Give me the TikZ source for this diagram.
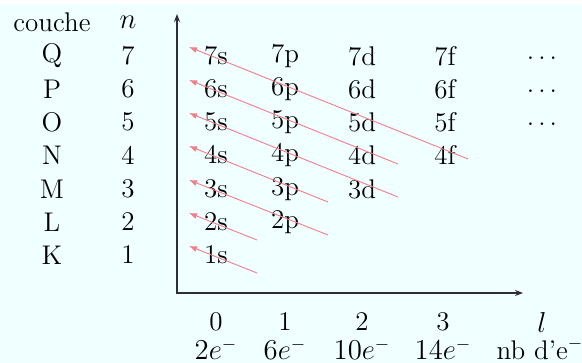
\documentclass[tikz,border=0pt]{standalone}
\usepackage{xcolor}
\usepackage{tikz}
\usetikzlibrary{arrows.meta,calc}

\definecolor{fond}{RGB}{240,255,255}
\definecolor{rouge}{RGB}{245,125,135}
\definecolor{axe}{RGB}{45,45,60}

\begin{document}
\begin{tikzpicture}[
    x=0.5pt, y=-0.5pt,
    lab/.style={font=\fontsize{13.5}{15}\selectfont, inner sep=0pt},
    orb/.style={lab},
    axis/.style={{Stealth[length=4pt,width=3pt]}-{Stealth[length=4pt,width=3pt]}, draw=axe, line width=0.65pt},
    diag/.style={-{Latex[length=4pt,width=3pt]}, draw=rouge, line width=0.45pt}
]
    \useasboundingbox (0,0) rectangle (582,363);
    \fill[fond] (0,4) rectangle (582,363);

    % en-tetes a gauche
    \node[lab] (couche) at (52,22) {couche};
    \node[lab] (n) at (128,22) {$n$};
    \node[lab] (Q) at (52,56) {Q};   \node[lab] (n7) at (128,56) {7};
    \node[lab] (P) at (52,89) {P};   \node[lab] (n6) at (128,89) {6};
    \node[lab] (O) at (52,122) {O};  \node[lab] (n5) at (128,122) {5};
    \node[lab] (N) at (52,155) {N};  \node[lab] (n4) at (128,155) {4};
    \node[lab] (M) at (52,189) {M};  \node[lab] (n3) at (128,189) {3};
    \node[lab] (L) at (52,222) {L};  \node[lab] (n2) at (128,222) {2};
    \node[lab] (K) at (52,255) {K};  \node[lab] (n1) at (128,255) {1};

    % axes
    \coordinate (orig) at (177,293);
    \coordinate (ytip) at (177,14);
    \coordinate (xtip) at (523,293);
    \draw[axis] (ytip) -- (orig) -- (xtip);

    % orbitales
    \node[orb] (7s) at (216,56) {7s};  \node[orb] (7p) at (285,56) {7p};
    \node[orb] (7d) at (362,56) {7d};  \node[orb] (7f) at (445,56) {7f};
    \node[orb] (7x) at (542,58) {.\kern2pt.\kern2pt.};
    \node[orb] (6s) at (216,89) {6s};  \node[orb] (6p) at (285,89) {6p};
    \node[orb] (6d) at (362,89) {6d};  \node[orb] (6f) at (445,89) {6f};
    \node[orb] (6x) at (542,91) {.\kern2pt.\kern2pt.};
    \node[orb] (5s) at (216,122) {5s}; \node[orb] (5p) at (285,122) {5p};
    \node[orb] (5d) at (362,122) {5d}; \node[orb] (5f) at (445,122) {5f};
    \node[orb] (5x) at (542,124) {.\kern2pt.\kern2pt.};
    \node[orb] (4s) at (216,155) {4s}; \node[orb] (4p) at (285,155) {4p};
    \node[orb] (4d) at (362,155) {4d}; \node[orb] (4f) at (445,155) {4f};
    \node[orb] (3s) at (216,189) {3s}; \node[orb] (3p) at (285,189) {3p};
    \node[orb] (3d) at (362,189) {3d};
    \node[orb] (2s) at (216,222) {2s}; \node[orb] (2p) at (285,222) {2p};
    \node[orb] (1s) at (216,255) {1s};

    % regle de Klechkowski
    \coordinate (h1) at (189,246); \coordinate (t1) at (257,273);
    \coordinate (h2) at (189,213); \coordinate (t2) at (257,240);
    \coordinate (h3) at (189,180); \coordinate (t3) at (328,235);
    \coordinate (h4) at (189,146); \coordinate (t4) at (328,202);
    \coordinate (h5) at (189,113); \coordinate (t5) at (398,197);
    \coordinate (h6) at (189,80);  \coordinate (t6) at (398,164);
    \coordinate (h7) at (189,47);  \coordinate (t7) at (468,159);
    \draw[diag] (t1) -- (h1);
    \draw[diag] (t2) -- (h2);
    \draw[diag] (t3) -- (h3);
    \draw[diag] (t4) -- (h4);
    \draw[diag] (t5) -- (h5);
    \draw[diag] (t6) -- (h6);
    \draw[diag] (t7) -- (h7);

    % nombre quantique l et nb d'electrons
    \node[lab] (l0) at (216,322) {0};
    \node[lab] (l1) at (285,322) {1};
    \node[lab] (l2) at (362,322) {2};
    \node[lab] (l3) at (443,322) {3};
    \node[lab] (l) at (542,322) {$l$};
    \node[lab] (e0) at (216,349) {$2e^-$};
    \node[lab] (e1) at (285,349) {$6e^-$};
    \node[lab] (e2) at (362,349) {$10e^-$};
    \node[lab] (e3) at (443,349) {$14e^-$};
    \node[lab] (enb) at (540,349) {nb d'e$^-$};
\end{tikzpicture}
\end{document}
